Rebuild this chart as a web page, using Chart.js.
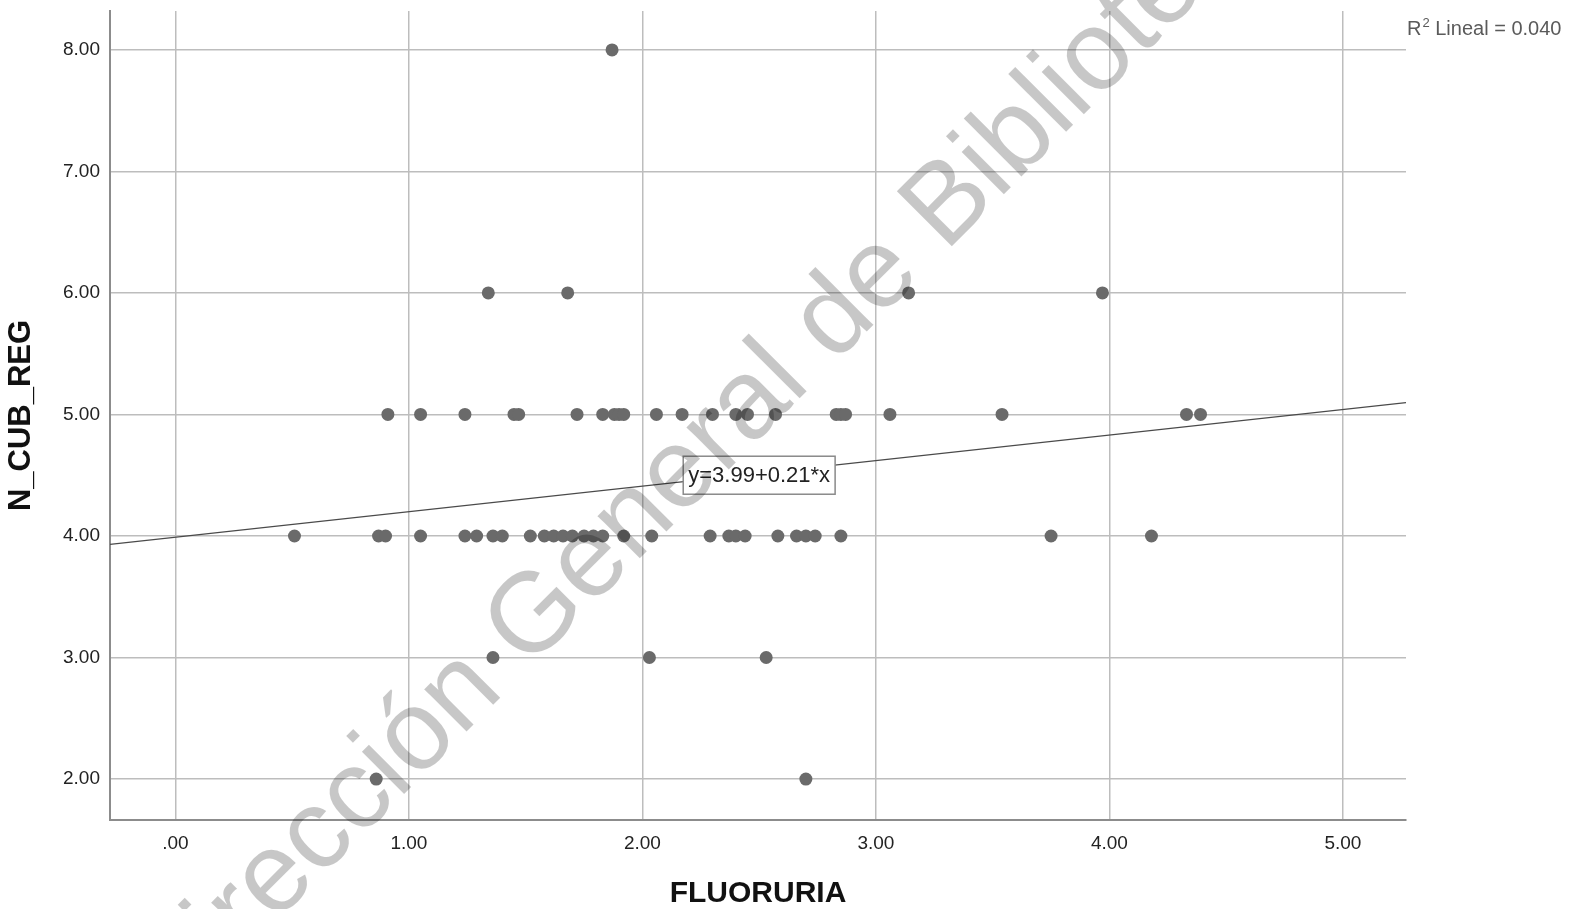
<!DOCTYPE html>
<html lang="es">
<head>
<meta charset="UTF-8">
<title>N_CUB_REG vs FLUORURIA</title>
<script src="https://cdn.jsdelivr.net/npm/chart.js"></script>
<style>
  html, body { margin: 0; padding: 0; background: #fff; }
</style>
</head>
<body>
<canvas id="scatter" width="1578" height="909"></canvas>
<script>
// FLUORURIA values, grouped by the N_CUB_REG level they sit on
const fluorAt2 = [0.86, 2.70];
const fluorAt3 = [1.36, 2.03, 2.53];
const fluorAt4 = [0.51, 0.87, 0.90, 1.05, 1.24, 1.29, 1.36, 1.40, 1.52, 1.58, 1.62, 1.66, 1.70, 1.75, 1.79, 1.83, 1.92,
                  2.04, 2.29, 2.37, 2.40, 2.44, 2.58, 2.66, 2.70, 2.74, 2.85, 3.75, 4.18];
const fluorAt5 = [0.91, 1.05, 1.24, 1.45, 1.47, 1.72, 1.83, 1.88, 1.90, 1.92, 2.06, 2.17, 2.30, 2.40, 2.45, 2.57,
                  2.83, 2.85, 2.87, 3.06, 3.54, 4.33, 4.39];
const fluorAt6 = [1.34, 1.68, 3.14, 3.97];
const fluorAt8 = [1.87];

const xTicks = [0, 1, 2, 3, 4, 5];
const xTickLabels = ['.00', '1.00', '2.00', '3.00', '4.00', '5.00'];
const yTicks = [2, 3, 4, 5, 6, 7, 8];
const yTickLabels = ['2.00', '3.00', '4.00', '5.00', '6.00', '7.00', '8.00'];

// linear fit shown on the chart
const fitIntercept = 3.99;
const fitSlope = 0.21;
const fitLabel = 'y=3.99+0.21*x';
const r2Label = 'Lineal = 0.040';

const xMin = -0.28, xMax = 5.27;
const yMin = 1.663, yMax = 8.32;

const FONT = '"Liberation Sans", Arial, sans-serif';

function rowPoints(xs, y) {
    return xs.map(x => ({ x: x, y: y }));
}
const points = [].concat(
    rowPoints(fluorAt2, 2), rowPoints(fluorAt3, 3), rowPoints(fluorAt4, 4),
    rowPoints(fluorAt5, 5), rowPoints(fluorAt6, 6), rowPoints(fluorAt8, 8)
);
const fitLine = [xMin, xMax].map(x => ({ x: x, y: fitIntercept + fitSlope * x }));

const extras = {
    id: 'extras',
    afterDatasetsDraw(chart) {
        const ctx = chart.ctx;
        const xs = chart.scales.x, ys = chart.scales.y;

        // equation box
        ctx.save();
        ctx.font = '22px ' + FONT;
        const tw = ctx.measureText(fitLabel).width;
        const cx = xs.getPixelForValue(2.5), cy = ys.getPixelForValue(4.5);
        const w = tw + 10, h = 38;
        ctx.fillStyle = '#fff';
        ctx.fillRect(cx - w / 2, cy - h / 2, w, h);
        ctx.strokeStyle = '#8a8a8a';
        ctx.lineWidth = 1.5;
        ctx.strokeRect(cx - w / 2, cy - h / 2, w, h);
        ctx.fillStyle = '#222';
        ctx.textAlign = 'center';
        ctx.textBaseline = 'middle';
        ctx.fillText(fitLabel, cx, cy + 1);
        ctx.restore();

        // R squared note, top right
        ctx.save();
        ctx.fillStyle = '#5a5a5a';
        ctx.textBaseline = 'alphabetic';
        ctx.font = '20px ' + FONT;
        let x = chart.chartArea.right + 1;
        ctx.fillText('R', x, 35);
        x += ctx.measureText('R').width;
        ctx.font = '13px ' + FONT;
        ctx.fillText('2', x + 1, 27);
        x += ctx.measureText('2').width + 1;
        ctx.font = '20px ' + FONT;
        ctx.fillText(' ' + r2Label, x, 35);
        ctx.restore();
    },
    afterDraw(chart) {
        // watermark
        const ctx = chart.ctx;
        ctx.save();
        ctx.translate(730, 424);
        ctx.rotate(-45 * Math.PI / 180);
        ctx.font = '113px ' + FONT;
        ctx.fillStyle = 'rgba(0,0,0,0.22)';
        ctx.textAlign = 'center';
        ctx.textBaseline = 'middle';
        ctx.fillText('Dirección General de Bibliotecas', 0, 0);
        ctx.restore();
    }
};

Chart.defaults.font.family = FONT;

new Chart(document.getElementById('scatter'), {
    type: 'scatter',
    data: {
        datasets: [
            {
                label: 'N_CUB_REG',
                data: points,
                backgroundColor: '#6a6a6a',
                borderWidth: 0,
                pointRadius: 6.5,
                pointHoverRadius: 6.5
            },
            {
                type: 'line',
                label: 'Ajuste',
                data: fitLine,
                borderColor: '#4a4a4a',
                borderWidth: 1.2,
                pointRadius: 0,
                fill: false
            }
        ]
    },
    options: {
        responsive: false,
        animation: false,
        layout: { padding: { top: 11, right: 172, left: 0, bottom: 0 } },
        plugins: { legend: { display: false }, tooltip: { enabled: false } },
        scales: {
            x: {
                type: 'linear',
                min: xMin,
                max: xMax,
                afterBuildTicks: s => { s.ticks = xTicks.map(v => ({ value: v })); },
                afterFit: s => { s.height = 89; s.paddingLeft = 0; s.paddingRight = 0; },
                grid: { color: '#bdbdbd', lineWidth: 1.5, drawTicks: false },
                border: { display: true, color: '#8c8c8c', width: 2 },
                ticks: {
                    padding: 12,
                    color: '#222',
                    font: { size: 19 },
                    maxRotation: 0,
                    callback: (v, i) => xTickLabels[i]
                },
                title: {
                    display: true,
                    text: 'FLUORURIA',
                    color: '#111',
                    font: { size: 30, weight: 'bold', lineHeight: 1 },
                    padding: { top: 0, bottom: 0 }
                }
            },
            y: {
                type: 'linear',
                min: yMin,
                max: yMax,
                afterBuildTicks: s => { s.ticks = yTicks.map(v => ({ value: v })); },
                afterFit: s => { s.width = 110; s.paddingTop = 0; s.paddingBottom = 0; },
                grid: { color: '#bdbdbd', lineWidth: 1.5, drawTicks: false },
                border: { display: true, color: '#8c8c8c', width: 2 },
                ticks: {
                    padding: 10,
                    color: '#222',
                    font: { size: 19 },
                    callback: (v, i) => yTickLabels[i]
                },
                title: {
                    display: true,
                    text: 'N_CUB_REG',
                    color: '#111',
                    font: { size: 31, weight: 'bold', lineHeight: 1 },
                    padding: { top: 6, bottom: 0 }
                }
            }
        }
    },
    plugins: [extras]
});
</script>
</body>
</html>
